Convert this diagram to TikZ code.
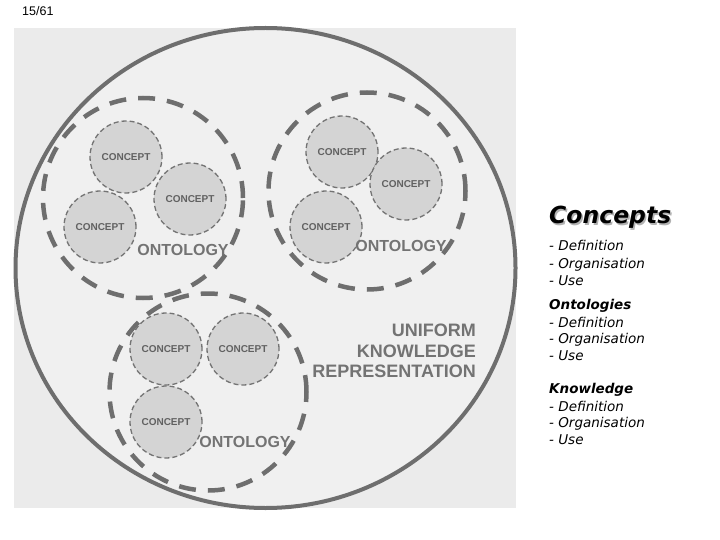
\documentclass[tikz,border=0pt]{standalone}
\usepackage{fontspec}
\usetikzlibrary{shapes.geometric}
\setmainfont{Liberation Sans}
\newfontfamily\verd{DejaVu Sans}
\begin{document}
\begin{tikzpicture}[x=1pt,y=-1pt,
  bgc/.style={fill=black!8, draw=none},
  ontobox/.style={circle, draw=black!57, line width=4.5pt, dash pattern=on 17pt off 12pt, minimum size=#1, inner sep=0pt},
  conceptbox/.style={circle, draw=black!55, line width=1.3pt, dash pattern=on 5pt off 3pt, fill=black!17, minimum size=72pt, inner sep=0pt, font=\bfseries\fontsize{10}{11}\selectfont, text=black!62},
  ontolabel/.style={font=\bfseries\fontsize{16}{18}\selectfont, text=black!55, inner sep=0pt},
  ukrtext/.style={anchor=base east, inner sep=0pt, font=\bfseries\fontsize{18}{20}\selectfont, text=black!55},
  listtext/.style={font=\verd\itshape\fontsize{13.5}{16}\selectfont, anchor=base west, inner sep=0pt},
  listhead/.style={listtext, font=\verd\bfseries\itshape\fontsize{13.5}{16}\selectfont},
]
\useasboundingbox (0,0) rectangle (720,540);
\fill[white] (0,0) rectangle (720,540);
\node[anchor=west, inner sep=0pt, font=\fontsize{12.5}{13}\selectfont] (pg) at (22,11) {15/61};
\path[bgc] (14,28) rectangle (516,508);
\node[ellipse, draw=black!57, line width=4pt, minimum width=500pt, minimum height=480pt, inner sep=0pt, fill=black!6] (ukr) at (265.5,268) {};
% ontology 1
\node[ontobox=200pt] (o1) at (143,198) {};
\node[conceptbox] (c11) at (126,157) {CONCEPT};
\node[conceptbox] (c12) at (190,199) {CONCEPT};
\node[conceptbox] (c13) at (100,227) {CONCEPT};
\node[ontolabel] (l1) at (183,250) {ONTOLOGY};
% ontology 2
\node[ontobox=197pt] (o2) at (367,191) {};
\node[conceptbox] (c21) at (342,152) {CONCEPT};
\node[conceptbox] (c22) at (406,184) {CONCEPT};
\node[conceptbox] (c23) at (326,227) {CONCEPT};
\node[ontolabel] (l2) at (401,246) {ONTOLOGY};
% ontology 3
\node[ontobox=197pt] (o3) at (208,392) {};
\node[conceptbox] (c31) at (166,349) {CONCEPT};
\node[conceptbox] (c32) at (243,349) {CONCEPT};
\node[conceptbox] (c33) at (166,422) {CONCEPT};
\node[ontolabel] (l3) at (245,442) {ONTOLOGY};
% main label
\node[ukrtext] (u1) at (476,336) {UNIFORM};
\node[ukrtext] (u2) at (476,357) {KNOWLEDGE};
\node[ukrtext] (u3) at (476,377) {REPRESENTATION};
% right text
\node[anchor=base west, inner sep=0pt, font=\verd\bfseries\itshape\fontsize{23.5}{26}\selectfont, text=black!30] (hs) at (550.5,225.5) {Concepts};
\node[anchor=base west, inner sep=0pt, font=\verd\bfseries\itshape\fontsize{23.5}{26}\selectfont] (h1) at (549,224) {Concepts};
\node[listtext] (a1) at (549,250) {- Definition};
\node[listtext] (a2) at (549,268) {- Organisation};
\node[listtext] (a3) at (549,285) {- Use};
\node[listhead] (b0) at (549,309) {Ontologies};
\node[listtext] (b1) at (549,327) {- Definition};
\node[listtext] (b2) at (549,343) {- Organisation};
\node[listtext] (b3) at (549,360) {- Use};
\node[listhead] (k0) at (549,393) {Knowledge};
\node[listtext] (k1) at (549,411) {- Definition};
\node[listtext] (k2) at (549,427) {- Organisation};
\node[listtext] (k3) at (549,444) {- Use};
\end{tikzpicture}
\end{document}
